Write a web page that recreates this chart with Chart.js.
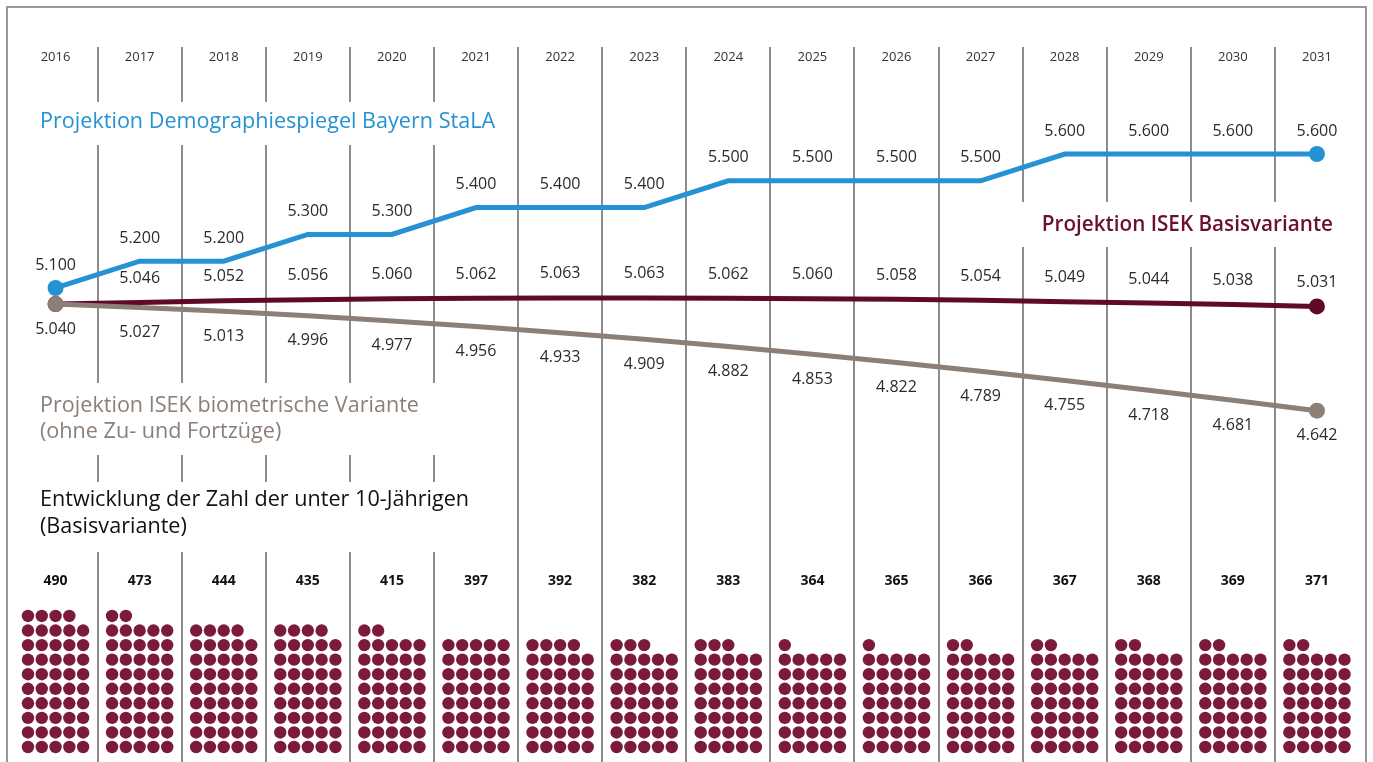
<!DOCTYPE html>
<html lang="de">
<head>
  <meta charset="UTF-8">
  <title>Bevölkerungsprojektion 2016–2031</title>
  <script src="https://cdn.jsdelivr.net/npm/chart.js"></script>
  <style>
    body { margin: 0; background: #fff; }
    #wrap { width: 1373px; height: 762px; position: relative; }
  </style>
</head>
<body>
  <div id="wrap"><canvas id="chart"></canvas></div>

  <script>
    const years = ['2016', '2017', '2018', '2019', '2020', '2021', '2022', '2023',
                   '2024', '2025', '2026', '2027', '2028', '2029', '2030', '2031'];
    const stala = [5100, 5200, 5200, 5300, 5300, 5400, 5400, 5400,
                   5500, 5500, 5500, 5500, 5600, 5600, 5600, 5600];
    const basis = [5040, 5046, 5052, 5056, 5060, 5062, 5063, 5063,
                   5062, 5060, 5058, 5054, 5049, 5044, 5038, 5031];
    const biometrisch = [5040, 5027, 5013, 4996, 4977, 4956, 4933, 4909,
                         4882, 4853, 4822, 4789, 4755, 4718, 4681, 4642];
    // unter 10-Jährige, und die Zahl der Punkte (je Punkt ca. 10 Kinder)
    const kinder = [490, 473, 444, 435, 415, 397, 392, 382,
                    383, 364, 365, 366, 367, 368, 369, 371];
    const kinderPunkte = [49, 47, 44, 44, 42, 40, 39, 38,
                          38, 36, 36, 37, 37, 37, 37, 37];

    const BLUE = '#2592d3', MAROON = '#5f0b24', GREY = '#8b7f77', DOT = '#7b1a3a';
    const FONT = "'Open Sans', sans-serif";

    function fmt(n) {
      return Math.floor(n / 1000) + '.' + String(n % 1000).padStart(3, '0');
    }
    const lastIdx = years.length - 1;
    const endRadius = ctx => (ctx.dataIndex === 0 || ctx.dataIndex === lastIdx) ? 8 : 0;
    const toXY = arr => arr.map((v, i) => ({ x: i, y: v }));

    const dotPoints = [];
    kinderPunkte.forEach((n, i) => {
      for (let d = 0; d < n; d++) {
        dotPoints.push({ x: i + ((d % 5) - 2) * 0.164, y: Math.floor(d / 5) });
      }
    });

    // Rahmen, Trennlinien, Titel, Werte
    const decor = {
      id: 'decor',
      beforeDatasetsDraw(chart) {
        const c = chart.ctx, xs = chart.scales.x;
        c.save();
        c.strokeStyle = '#999';
        c.lineWidth = 2;
        c.beginPath();
        c.moveTo(7, 762); c.lineTo(7, 7); c.lineTo(1366, 7); c.lineTo(1366, 762);
        c.stroke();

        c.strokeStyle = '#8c8c8c';
        c.lineWidth = 2;
        for (let k = 0; k < years.length - 1; k++) {
          const x = Math.round(xs.getPixelForValue(k + 0.5));
          let segs;
          if (k <= 4) segs = [[47, 102], [145, 383], [455, 482], [552, 762]];
          else if (k <= 10) segs = [[47, 762]];
          else segs = [[47, 202], [247, 762]];
          c.beginPath();
          segs.forEach(s => { c.moveTo(x, s[0]); c.lineTo(x, s[1]); });
          c.stroke();
        }
        c.restore();
      },
      afterDatasetsDraw(chart) {
        const c = chart.ctx, xs = chart.scales.x;
        c.save();
        c.textBaseline = 'middle';

        // Titel
        c.textAlign = 'left';
        c.font = '21.6px ' + FONT;
        c.fillStyle = BLUE;
        c.fillText('Projektion Demographiespiegel Bayern StaLA', 40, 122);
        c.fillStyle = GREY;
        c.fillText('Projektion ISEK biometrische Variante', 40, 406);
        c.fillText('(ohne Zu- und Fortzüge)', 40, 432);
        c.fillStyle = '#111';
        c.fillText('Entwicklung der Zahl der unter 10-Jährigen', 40, 500);
        c.fillText('(Basisvariante)', 40, 527);
        c.textAlign = 'right';
        c.font = '600 20.7px ' + FONT;
        c.fillStyle = '#6b1030';
        c.fillText('Projektion ISEK Basisvariante', 1333, 225);

        // Werte an den Linien
        c.textAlign = 'center';
        c.font = '16px ' + FONT;
        c.fillStyle = '#2b2b2b';
        chart.data.datasets.forEach((ds, di) => {
          if (ds.labelOffset === undefined) return;
          chart.getDatasetMeta(di).data.forEach((pt, j) => {
            if (j === 0 && ds.skipFirst) return;
            c.fillText(fmt(ds.data[j].y), pt.x, pt.y + ds.labelOffset);
          });
        });

        // Kinderzahlen
        c.font = 'bold 14px ' + FONT;
        c.fillStyle = '#111';
        kinder.forEach((v, i) => c.fillText(String(v), xs.getPixelForValue(i), 581));
        c.restore();
      }
    };

    new Chart(document.getElementById('chart'), {
      type: 'line',
      data: {
        datasets: [
          {
            label: 'Projektion ISEK biometrische Variante',
            data: toXY(biometrisch),
            borderColor: GREY, backgroundColor: GREY,
            borderWidth: 5, pointRadius: endRadius, pointBorderWidth: 0,
            tension: 0, labelOffset: 25
          },
          {
            label: 'Projektion ISEK Basisvariante',
            data: toXY(basis),
            borderColor: MAROON, backgroundColor: MAROON,
            borderWidth: 5, pointRadius: endRadius, pointBorderWidth: 0,
            tension: 0, labelOffset: -24, skipFirst: true
          },
          {
            label: 'Projektion Demographiespiegel Bayern StaLA',
            data: toXY(stala),
            borderColor: BLUE, backgroundColor: BLUE,
            borderWidth: 5, pointRadius: endRadius, pointBorderWidth: 0,
            tension: 0, labelOffset: -23
          },
          {
            label: 'unter 10-Jährige',
            data: dotPoints,
            yAxisID: 'yDots',
            showLine: false,
            pointRadius: 6.2, pointBorderWidth: 0,
            backgroundColor: DOT, borderColor: DOT
          }
        ]
      },
      options: {
        responsive: true,
        maintainAspectRatio: false,
        animation: false,
        layout: { autoPadding: false, padding: { top: 40, left: 13.5, right: 14, bottom: 0 } },
        plugins: { legend: { display: false }, tooltip: { enabled: false } },
        scales: {
          x: {
            type: 'linear', position: 'top', min: -0.5, max: 15.5,
            grid: { display: false }, border: { display: false },
            afterBuildTicks: s => { s.ticks = years.map((y, i) => ({ value: i })); },
            afterFit: s => { s.height = 32; },
            ticks: {
              callback: v => years[v], padding: -1, color: '#333',
              font: { size: 13, family: FONT }, maxRotation: 0, autoSkip: false
            }
          },
          y: { display: false, min: 3331, max: 5906 },
          yDots: { display: false, min: -1.03, max: 46.36 }
        }
      },
      plugins: [decor]
    });
  </script>
</body>
</html>
